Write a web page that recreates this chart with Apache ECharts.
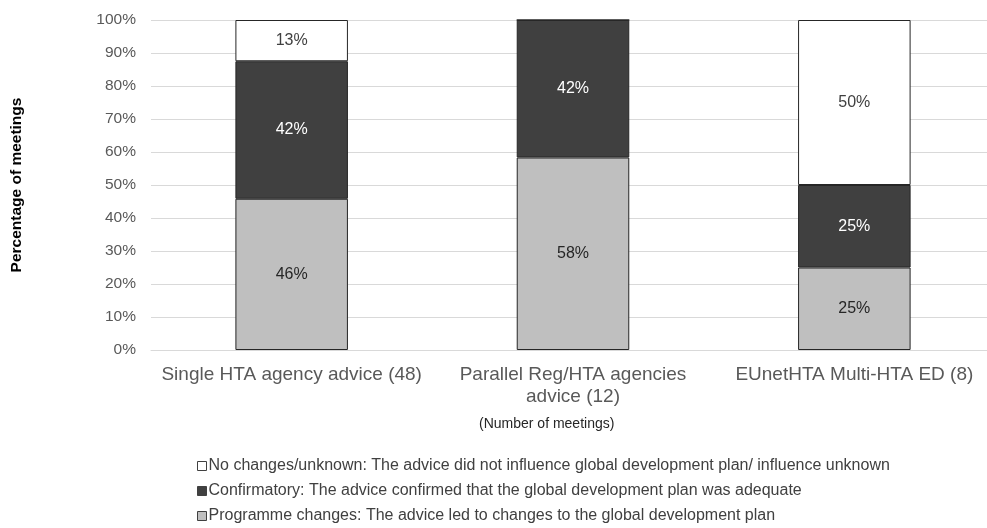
<!DOCTYPE html>
<html>
<head>
<meta charset="utf-8">
<script src="https://cdn.jsdelivr.net/npm/echarts@6/dist/echarts.min.js"></script>
<style>
  html, body { margin: 0; padding: 0; background: #fff; }
  #chart { width: 987px; height: 528px; }
</style>
</head>
<body>
<div id="chart"></div>
<script>
// Meeting categories (x axis)
const categories = [
  'Single HTA agency advice (48)',
  'Parallel Reg/HTA agencies\nadvice (12)',
  'EUnetHTA Multi-HTA ED (8)'
];
// Share of meetings per outcome, in percent
const programmeChanges = [45.83, 58.33, 25];
const confirmatory = [41.67, 41.67, 25];
const noChanges = [12.5, 0, 50];
// Y axis ticks
const yTicks = [0, 10, 20, 30, 40, 50, 60, 70, 80, 90, 100];

const seriesNames = [
  'Programme changes: The advice led to changes to the global development plan',
  'Confirmatory: The advice confirmed that the global development plan was adequate',
  'No changes/unknown: The advice did not influence global development plan/ influence unknown'
];

const FONT = '"Liberation Sans", Arial, sans-serif';

function pctLabel(p) {
  return p.value > 0 ? Math.round(p.value) + '%' : '';
}

function barSeries(name, data, fill, textColor) {
  return {
    name: name,
    type: 'bar',
    stack: 'total',
    data: data,
    barWidth: '40%',
    itemStyle: { color: fill, borderColor: '#262626', borderWidth: 1 },
    label: {
      show: true,
      position: 'inside',
      formatter: pctLabel,
      color: textColor,
      fontFamily: FONT,
      fontSize: 16
    },
    emphasis: { disabled: true }
  };
}

const chart = echarts.init(document.getElementById('chart'), null, { renderer: 'canvas' });
chart.setOption({
  animation: false,
  backgroundColor: '#ffffff',
  grid: { left: 151, top: 20, width: 844, height: 330, containLabel: false, outerBoundsMode: 'none' },
  legend: {
    orient: 'vertical',
    left: 197,
    top: 458,
    padding: 0,
    itemWidth: 9,
    itemHeight: 9,
    itemGap: 9,
    icon: 'rect',
    data: [seriesNames[2], seriesNames[1], seriesNames[0]],
    textStyle: { fontFamily: FONT, fontSize: 16, lineHeight: 16, color: '#404040', padding: [0, 0, 0, -3] },
    itemStyle: { borderColor: '#404040', borderWidth: 1 },
    selectedMode: false
  },
  graphic: [{
    type: 'text',
    left: 479,
    top: 417,
    style: { text: '(Number of meetings)', fontFamily: FONT, fontSize: 14, fill: '#262626' }
  }],
  xAxis: {
    type: 'category',
    data: categories,
    axisLine: { show: true, lineStyle: { color: '#d9d9d9', width: 1 } },
    axisTick: { show: false },
    axisLabel: { fontFamily: FONT, fontSize: 19, color: '#595959', margin: 14, lineHeight: 22, interval: 0 }
  },
  yAxis: {
    type: 'value',
    min: yTicks[0],
    max: yTicks[yTicks.length - 1],
    interval: 10,
    name: 'Percentage of meetings',
    nameLocation: 'middle',
    nameGap: 126,
    nameRotate: 90,
    nameTextStyle: { fontFamily: FONT, fontSize: 15.5, fontWeight: 'bold', color: '#000000' },
    axisLine: { show: false },
    axisTick: { show: false },
    splitLine: { lineStyle: { color: '#d9d9d9', width: 1 } },
    axisLabel: { fontFamily: FONT, fontSize: 15.5, color: '#595959', margin: 15, formatter: '{value}%' }
  },
  series: [
    barSeries(seriesNames[0], programmeChanges, '#bfbfbf', '#262626'),
    barSeries(seriesNames[1], confirmatory, '#404040', '#ffffff'),
    barSeries(seriesNames[2], noChanges, '#ffffff', '#404040')
  ]
});
</script>
</body>
</html>
